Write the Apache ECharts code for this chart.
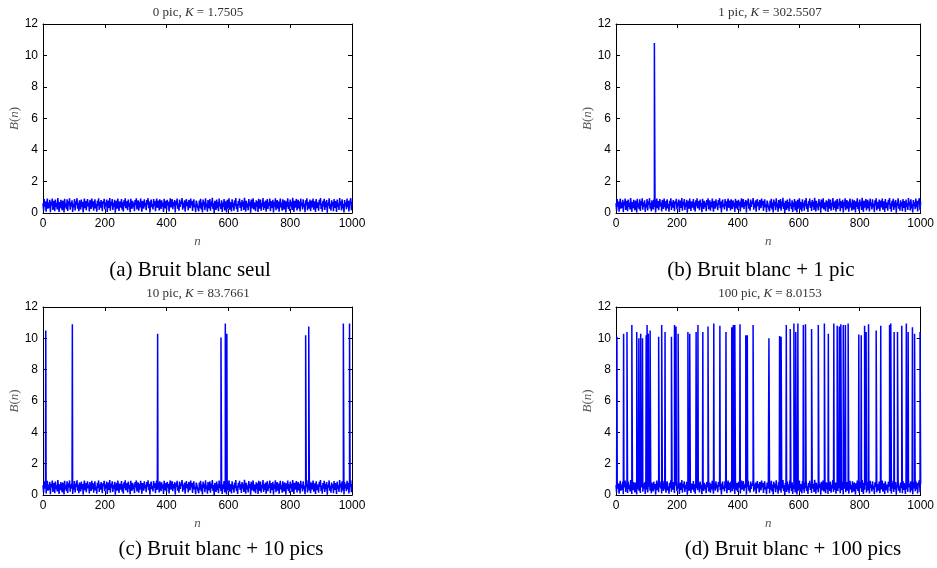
<!DOCTYPE html>
<html>
<head>
<meta charset="utf-8">
<script src="https://cdn.jsdelivr.net/npm/echarts@6/dist/echarts.min.js"></script>
<style>html,body{margin:0;padding:0;background:#fff;}#c{width:937px;height:568px;}</style>
</head>
<body>
<div id="c"></div>
<script>
// Noise samples B(n), one every 2 samples of n
const noiseStep = 2;
const noise = [
0.62,0.15,0.88,0.41,0.73,0.09,0.55,0.91,0.27,0.66,
0.33,0.84,0.05,0.71,0.48,0.92,0.19,0.58,0.77,0.12,
0.86,0.39,0.64,0.22,0.95,0.51,0.07,0.69,0.31,0.83,
0.44,0.17,0.79,0.57,0.03,0.90,0.36,0.62,0.25,0.87,
0.13,0.74,0.49,0.93,0.21,0.68,0.40,0.81,0.06,0.59,
0.35,0.89,0.16,0.72,0.53,0.94,0.28,0.65,0.11,0.80,
0.46,0.23,0.85,0.38,0.70,0.04,0.61,0.92,0.30,0.76,
0.18,0.54,0.88,0.42,0.67,0.10,0.83,0.50,0.26,0.91,
0.37,0.75,0.14,0.63,0.87,0.29,0.56,0.08,0.78,0.45,
0.93,0.20,0.69,0.34,0.82,0.52,0.12,0.74,0.60,0.90,
0.24,0.66,0.43,0.86,0.07,0.58,0.79,0.32,0.95,0.15,
0.71,0.47,0.88,0.19,0.64,0.39,0.84,0.02,0.55,0.77,
0.27,0.92,0.48,0.13,0.73,0.61,0.35,0.89,0.21,0.68,
0.09,0.81,0.44,0.94,0.30,0.57,0.75,0.17,0.86,0.41,
0.63,0.05,0.90,0.52,0.26,0.78,0.37,0.67,0.11,0.83,
0.49,0.93,0.22,0.60,0.80,0.14,0.70,0.36,0.91,0.46,
0.08,0.76,0.59,0.28,0.87,0.42,0.65,0.18,0.82,0.53,
0.94,0.31,0.72,0.04,0.62,0.85,0.38,0.56,0.23,0.89,
0.45,0.74,0.12,0.68,0.92,0.33,0.58,0.79,0.16,0.87,
0.50,0.25,0.81,0.40,0.66,0.06,0.90,0.54,0.29,0.77,
0.19,0.84,0.47,0.71,0.10,0.63,0.93,0.35,0.57,0.88,
0.24,0.69,0.43,0.82,0.03,0.75,0.52,0.91,0.27,0.60,
0.14,0.86,0.39,0.73,0.58,0.95,0.21,0.67,0.34,0.80,
0.08,0.55,0.89,0.44,0.70,0.17,0.83,0.61,0.30,0.92,
0.48,0.76,0.13,0.65,0.87,0.36,0.53,0.05,0.79,0.62,
0.41,
0.52,0.11,0.79,0.34,0.90,0.23,0.67,0.04,0.85,0.46,
0.71,0.18,0.94,0.37,0.60,0.08,0.82,0.55,0.29,0.88,
0.14,0.73,0.42,0.96,0.26,0.63,0.01,0.77,0.50,0.19,
0.86,0.31,0.69,0.12,0.92,0.45,0.58,0.24,0.81,0.07,
0.66,0.39,0.89,0.16,0.74,0.53,0.03,0.84,0.28,0.61,
0.93,0.21,0.70,0.47,0.10,0.87,0.35,0.64,0.15,0.80,
0.43,0.95,0.25,0.57,0.06,0.76,0.49,0.91,0.32,0.68,
0.13,0.83,0.40,0.72,0.20,0.97,0.54,0.09,0.78,0.36,
0.62,0.17,0.89,0.44,0.71,0.02,0.85,0.30,0.59,0.93,
0.22,0.67,0.48,0.11,0.81,0.38,0.74,0.06,0.90,0.51,
0.27,0.86,0.14,0.63,0.42,0.95,0.19,0.70,0.33,0.79,
0.08,0.57,0.88,0.25,0.66,0.45,0.92,0.12,0.76,0.53,
0.31,0.84,0.04,0.69,0.40,0.94,0.18,0.61,0.82,0.27,
0.73,0.09,0.56,0.91,0.35,0.64,0.15,0.87,0.47,0.22,
0.80,0.58,0.03,0.75,0.39,0.93,0.26,0.68,0.13,0.85,
0.44,0.71,0.20,0.96,0.52,0.07,0.78,0.34,0.62,0.89,
0.16,0.55,0.83,0.29,0.72,0.10,0.91,0.46,0.65,0.23,
0.87,0.37,0.59,0.05,0.81,0.50,0.94,0.17,0.70,0.42,
0.28,0.86,0.12,0.63,0.79,0.35,0.92,0.21,0.57,0.74,
0.06,0.88,0.48,0.31,0.67,0.15,0.84,0.53,0.95,0.25,
0.60,0.09,0.77,0.41,0.90,0.19,0.72,0.36,0.83,0.02,
0.65,0.47,0.93,0.27,0.58,0.14,0.80,0.44,0.69,0.11,
0.89,0.32,0.76,0.54,0.07,0.85,0.39,0.62,0.20,0.95,
0.49,0.73,0.16,0.87,0.30,0.56,0.04,0.82,0.43,0.68,
0.24,0.91,0.37,0.78,0.10,0.64,0.52,0.94,0.18,0.71
];

// Peaks (position n, height)
const peaksA_n = [];
const peaksA_h = [];
const peaksB_n = [126];
const peaksB_h = [10.8];
const peaksC_n = [9, 95, 371, 576, 590, 595, 850, 860, 972, 992];
const peaksC_h = [10.5, 10.9, 10.3, 10.05, 10.95, 10.3, 10.2, 10.75, 10.95, 10.95];
const peaksD_n = [3,25,36,52,68,75,81,87,99,102,106,112,140,150,161,182,192,197,204,236,
242,263,269,285,302,321,341,361,380,385,390,407,426,431,450,502,537,542,559,572,
584,590,597,615,622,642,664,684,697,715,726,733,738,746,753,762,797,805,816,821,
829,854,869,898,902,913,924,938,953,959,973,980,998];
const peaksD_h = [10.1,10.3,10.4,10.85,10.4,10.0,10.3,10.0,10.2,10.85,10.3,10.5,10.1,10.85,10.4,10.1,10.85,10.75,10.3,10.4,
10.3,10.4,10.85,10.4,10.75,10.95,10.8,10.4,10.7,10.85,10.85,10.9,10.2,10.2,10.85,10.0,10.15,10.1,10.85,10.6,
10.95,10.4,10.95,10.85,10.9,10.6,10.85,10.95,10.3,10.95,10.8,10.75,10.9,10.85,10.85,10.95,10.25,10.2,10.8,10.4,
10.9,10.5,10.8,10.85,10.95,10.4,10.4,10.8,10.95,10.4,10.7,10.3,10.4];

const titleCounts = ['0', '1', '10', '100'];
const titleK = ['1.7505', '302.5507', '83.7661', '8.0153'];
const captions = ['(a) Bruit blanc seul', '(b) Bruit blanc + 1 pic', '(c) Bruit blanc + 10 pics', '(d) Bruit blanc + 100 pics'];
const xTicks = {min: 0, max: 1000, interval: 200};
const yTicks = {min: 0, max: 12, interval: 2};

function buildData(pn, ph) {
  const pts = noise.map((v, i) => [i * noiseStep, v]);
  for (let k = 0; k < pn.length; k++) pts.push([pn[k], ph[k]]);
  pts.sort((a, b) => a[0] - b[0]);
  return pts;
}
const allPeaks = [[peaksA_n, peaksA_h], [peaksB_n, peaksB_h], [peaksC_n, peaksC_h], [peaksD_n, peaksD_h]];

const grids = [
  {left: 43, top: 24, width: 309, height: 189},
  {left: 616, top: 24, width: 307, height: 189},
  {left: 43, top: 307, width: 309, height: 188},
  {left: 616, top: 307, width: 307, height: 188}
];
const titlePos = [[198, 13], [770, 13], [198, 294], [770, 294]];
const captionPos = [[190, 270], [761, 270], [221, 549], [793, 549]];

const serif = 'Liberation Serif';
const sans = 'Liberation Sans';
const xAxes = [], yAxes = [], series = [], graphics = [];
grids.forEach((g, i) => {
  const tick = {show: true, inside: true, length: 4, lineStyle: {color: '#000', width: 1}};
  const line = {show: true, onZero: false, lineStyle: {color: '#000', width: 1}};
  xAxes.push({
    gridIndex: i, type: 'value', position: 'bottom', min: xTicks.min, max: xTicks.max, interval: xTicks.interval,
    axisLine: line, axisTick: tick, splitLine: {show: false},
    axisLabel: {color: '#000', fontSize: 12, fontFamily: sans, margin: 5, formatter: v => String(v)},
    name: '{i|n}', nameLocation: 'middle', nameGap: 22,
    nameTextStyle: {rich: {i: {fontFamily: serif, fontStyle: 'italic', fontSize: 13, color: '#555'}}}
  });
  xAxes.push({
    gridIndex: i, type: 'value', position: 'top', min: xTicks.min, max: xTicks.max, interval: xTicks.interval,
    axisLine: line, axisTick: tick, splitLine: {show: false}, axisLabel: {show: false}
  });
  yAxes.push({
    gridIndex: i, type: 'value', position: 'left', min: yTicks.min, max: yTicks.max, interval: yTicks.interval,
    axisLine: line, axisTick: tick, splitLine: {show: false},
    axisLabel: {color: '#000', fontSize: 12, fontFamily: sans, margin: 5, formatter: v => String(v)},
    name: '{i|B}{r|(}{i|n}{r|)}', nameLocation: 'middle', nameGap: 21, nameRotate: 90,
    nameTextStyle: {rich: {
      i: {fontFamily: serif, fontStyle: 'italic', fontSize: 13, color: '#555'},
      r: {fontFamily: serif, fontSize: 13, color: '#555'}
    }}
  });
  yAxes.push({
    gridIndex: i, type: 'value', position: 'right', min: yTicks.min, max: yTicks.max, interval: yTicks.interval,
    axisLine: line, axisTick: tick, splitLine: {show: false}, axisLabel: {show: false}
  });
  series.push({
    type: 'line', xAxisIndex: 2 * i, yAxisIndex: 2 * i, showSymbol: false, symbol: 'none',
    lineStyle: {color: '#0000ff', width: 1.5}, data: buildData(allPeaks[i][0], allPeaks[i][1]),
    silent: true, animation: false
  });
  graphics.push({
    type: 'text', x: titlePos[i][0], y: titlePos[i][1],
    style: {
      text: '{a|' + titleCounts[i] + ' pic, }{k|K}{a| = ' + titleK[i] + '}',
      align: 'center', verticalAlign: 'middle',
      rich: {
        a: {fontFamily: serif, fontSize: 13, fill: '#333'},
        k: {fontFamily: serif, fontStyle: 'italic', fontSize: 13, fill: '#333'}
      }
    }
  });
  graphics.push({
    type: 'text', x: captionPos[i][0], y: captionPos[i][1],
    style: {text: captions[i], align: 'center', verticalAlign: 'middle', fontFamily: serif, fontSize: 21, fill: '#000'}
  });
});

const chart = echarts.init(document.getElementById('c'), null, {renderer: 'canvas'});
chart.setOption({
  animation: false,
  backgroundColor: '#fff',
  grid: grids.map(g => Object.assign({show: false}, g)),
  xAxis: xAxes,
  yAxis: yAxes,
  series: series,
  graphic: graphics
});
</script>
</body>
</html>
